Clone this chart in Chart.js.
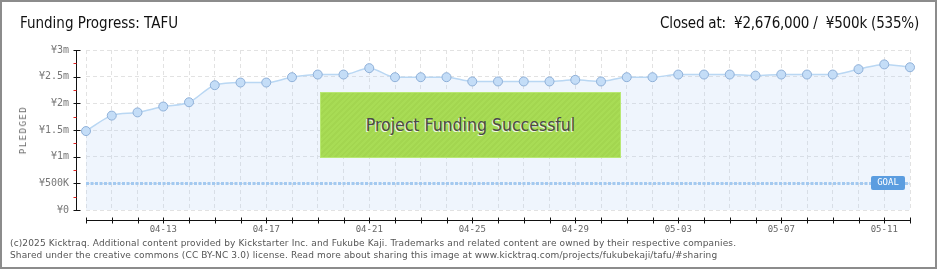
<!DOCTYPE html>
<html>
<head>
<meta charset="utf-8">
<script src="https://cdn.jsdelivr.net/npm/chart.js@4"></script>
<style>
  html, body { margin: 0; padding: 0; background: #fff; }
  body { width: 940px; height: 270px; position: relative; overflow: hidden; }
  .marco { position: absolute; left: 0; top: 0; width: 937px; height: 269px; box-sizing: border-box; border: 2px solid #8c8c8c; }
  #grafica { position: absolute; left: 0; top: 0; }
  .titulo { position: absolute; left: 20px; top: 14px; font: 15px "Liberation Sans Narrow", "DejaVu Sans Condensed", sans-serif; color: #111; }
  .cerrado { position: absolute; right: 21px; top: 14px; font: 15px "Liberation Sans Narrow", "DejaVu Sans Condensed", sans-serif; color: #111; letter-spacing: -0.2px; }
  .pledged { position: absolute; left: 23px; top: 130px; transform: translate(-50%, -50%) rotate(-90deg); font: 9px "DejaVu Sans Mono", monospace; letter-spacing: 1.5px; color: #666; white-space: nowrap; }
  .exito { position: absolute; left: 320px; top: 92px; width: 301px; height: 66px; box-sizing: border-box; border: 1px solid #b8e873;
    background: repeating-linear-gradient(135deg, #a8dc55 0 2px, #a3d650 2px 4px);
    display: flex; align-items: center; justify-content: center;
    font: 17.5px "Liberation Sans Narrow", "DejaVu Sans Condensed", sans-serif; color: #4a4a4a; text-shadow: -1px 1px 0 #eef8e2; }
  .pie { position: absolute; left: 10px; top: 237px; font: 9px "DejaVu Sans", sans-serif; letter-spacing: 0.13px; color: #555; line-height: 12px; white-space: nowrap; }
</style>
</head>
<body>
<div class="marco"></div>
<canvas id="grafica" width="940" height="270"></canvas>
<div class="titulo">Funding Progress: TAFU</div>
<div class="cerrado">Closed at:&nbsp; ¥2,676,000 / &nbsp;¥500k (535%)</div>
<div class="pledged">PLEDGED</div>
<div class="exito">Project Funding Successful</div>
<div class="pie">(c)2025 Kicktraq. Additional content provided by Kickstarter Inc. and Fukube Kaji. Trademarks and related content are owned by their respective companies.<br>Shared under the creative commons (CC BY-NC 3.0) license. Read more about sharing this image at www.kicktraq.com/projects/fukubekaji/tafu/#sharing</div>

<script>
// dias de la campaña
const fechas = [
  "04-10", "04-11", "04-12", "04-13", "04-14", "04-15", "04-16", "04-17",
  "04-18", "04-19", "04-20", "04-21", "04-22", "04-23", "04-24", "04-25",
  "04-26", "04-27", "04-28", "04-29", "04-30", "05-01", "05-02", "05-03",
  "05-04", "05-05", "05-06", "05-07", "05-08", "05-09", "05-10", "05-11",
  "05-12",
];
// monto recaudado (yenes)
const recaudado = [
  1480000, 1770000, 1830000, 1940000, 2020000, 2340000, 2390000, 2390000,
  2490000, 2540000, 2540000, 2660000, 2490000, 2490000, 2490000, 2410000,
  2410000, 2410000, 2410000, 2440000, 2410000, 2490000, 2490000, 2540000,
  2540000, 2540000, 2520000, 2540000, 2540000, 2540000, 2640000, 2730000,
  2676000,
];
const meta = 500000;
const etiquetasX = ["04-13", "04-17", "04-21", "04-25", "04-29", "05-03", "05-07", "05-11"];
const etiquetasY = ["¥0", "¥500K", "¥1m", "¥1.5m", "¥2m", "¥2.5m", "¥3m"];

// ejes con ticks a la izquierda / abajo, separados del area
const ejes = {
  id: "ejes",
  afterDatasetsDraw(chart) {
    const ctx = chart.ctx;
    const y = chart.scales.y;
    const x = chart.scales.x;
    const area = chart.chartArea;
    ctx.save();
    // linea de meta
    const ym = Math.round(y.getPixelForValue(meta));
    ctx.strokeStyle = "#a3c9f0";
    ctx.lineWidth = 3;
    ctx.setLineDash([3, 1.5]);
    ctx.beginPath();
    ctx.moveTo(area.left, ym + 0.5);
    ctx.lineTo(area.right, ym + 0.5);
    ctx.stroke();
    ctx.setLineDash([]);
    // etiqueta GOAL
    ctx.fillStyle = "#5b9de0";
    ctx.beginPath();
    ctx.roundRect(871, ym - 7, 34, 14, 2);
    ctx.fill();
    ctx.fillStyle = "#fff";
    ctx.font = "9px 'DejaVu Sans Mono', monospace";
    ctx.textAlign = "center";
    ctx.textBaseline = "middle";
    ctx.fillText("GOAL", 888, ym);

    // eje y
    const xe = area.left - 9.5;
    ctx.strokeStyle = "#111";
    ctx.lineWidth = 1;
    ctx.beginPath();
    ctx.moveTo(xe, area.top);
    ctx.lineTo(xe, area.bottom + 1);
    y.ticks.forEach((t) => {
      const py = Math.round(y.getPixelForValue(t.value)) + 0.5;
      ctx.moveTo(xe - 3, py);
      ctx.lineTo(xe + 4, py);
    });
    ctx.stroke();
    ctx.strokeStyle = "#e02020";
    ctx.beginPath();
    for (let i = 0; i < y.ticks.length - 1; i++) {
      const py = Math.round(y.getPixelForValue(y.ticks[i].value + 250000)) + 0.5;
      ctx.moveTo(xe - 3, py);
      ctx.lineTo(xe, py);
    }
    ctx.stroke();

    // eje x
    const ye = area.bottom + 10.5;
    ctx.strokeStyle = "#111";
    ctx.beginPath();
    ctx.moveTo(area.left, ye);
    ctx.lineTo(area.right + 1, ye);
    fechas.forEach((f, i) => {
      const px = Math.round(x.getPixelForValue(i)) + 0.5;
      ctx.moveTo(px, ye - 3);
      ctx.lineTo(px, ye + 3);
    });
    ctx.stroke();
    ctx.restore();
  },
};

const rejilla = {
  color: "#e2e2e2",
  lineWidth: 1,
  drawTicks: false,
};

new Chart(document.getElementById("grafica"), {
  type: "line",
  data: {
    labels: fechas,
    datasets: [
      {
        data: recaudado,
        borderColor: "#b9d7f3",
        borderWidth: 1.5,
        backgroundColor: "rgba(180, 210, 245, 0.22)",
        fill: "origin",
        cubicInterpolationMode: "monotone",
        pointRadius: 4.5,
        pointBackgroundColor: "#c4ddf7",
        pointBorderColor: "#8fb0d8",
        pointBorderWidth: 1,
      },
    ],
  },
  options: {
    responsive: false,
    animation: false,
    layout: { padding: { top: 50, right: 30, left: 0, bottom: 0 } },
    plugins: { legend: { display: false }, tooltip: { enabled: false }, title: { display: false } },
    scales: {
      x: {
        offset: false,
        afterFit: (s) => { s.height = 60; },
        grid: Object.assign({}, rejilla),
        border: { display: false, dash: [4, 3] },
        ticks: {
          autoSkip: false,
          maxRotation: 0,
          padding: 14,
          color: "#666",
          font: { family: "DejaVu Sans Mono", size: 9 },
          callback: (v, i) => (etiquetasX.includes(fechas[i]) ? fechas[i] : ""),
        },
      },
      y: {
        min: 0,
        max: 3000000,
        afterFit: (s) => { s.width = 86; },
        grid: Object.assign({}, rejilla),
        border: { display: false, dash: [4, 3] },
        ticks: {
          stepSize: 500000,
          padding: 17,
          color: "#777",
          font: { family: "DejaVu Sans Mono", size: 10 },
          callback: (v, i) => etiquetasY[i],
        },
      },
    },
  },
  plugins: [ejes],
});
</script>
</body>
</html>
